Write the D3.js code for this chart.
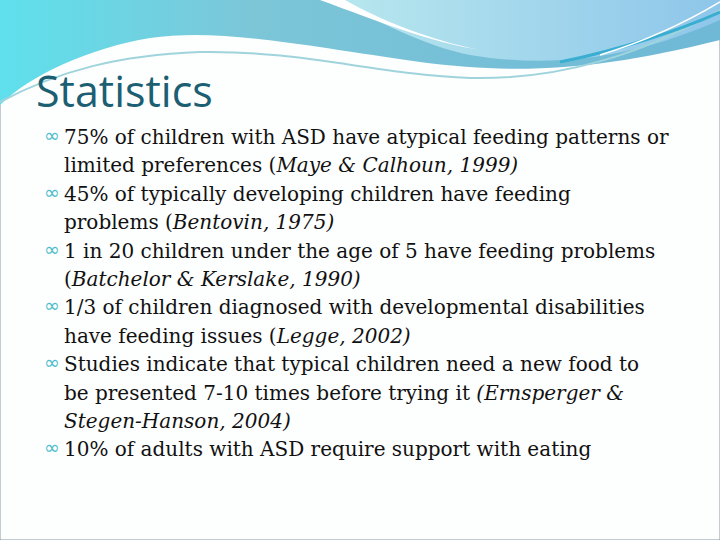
<!DOCTYPE html>
<html><head><meta charset="utf-8">
<script src="https://cdn.jsdelivr.net/npm/d3@7"></script>
<style>body{margin:0;background:#fff}</style>
</head><body>
<script>
var title = "Statistics";
// each bullet: list of lines, each line: list of [text, italic]
var bullets = [
  [[["75% of children with ASD have atypical feeding patterns or", 0]],
   [["limited preferences (", 0], ["Maye & Calhoun, 1999)", 1]]],
  [[["45% of typically developing children have feeding", 0]],
   [["problems (", 0], ["Bentovin, 1975)", 1]]],
  [[["1 in 20 children under the age of 5 have feeding problems", 0]],
   [["(", 0], ["Batchelor & Kerslake, 1990)", 1]]],
  [[["1/3 of children diagnosed with developmental disabilities", 0]],
   [["have feeding issues (", 0], ["Legge, 2002)", 1]]],
  [[["Studies indicate that typical children need a new food to", 0]],
   [["be presented 7-10 times before trying it ", 0], ["(Ernsperger &", 1]],
   [["Stegen-Hanson, 2004)", 1]]],
  [[["10% of adults with ASD require support with eating", 0]]]
];

var width = 720, height = 540;
var svg = d3.select("body").append("svg").attr("width", width).attr("height", height);

var defs = svg.append("defs");
var g1 = defs.append("linearGradient").attr("id", "g1");
g1.append("stop").attr("offset", "0").attr("stop-color", "#5fe0ec");
g1.append("stop").attr("offset", "0.35").attr("stop-color", "#7cc6d8");
g1.append("stop").attr("offset", "1").attr("stop-color", "#6fb8d6");
var g2 = defs.append("linearGradient").attr("id", "g2");
g2.append("stop").attr("offset", "0").attr("stop-color", "#b8e8ee");
g2.append("stop").attr("offset", "1").attr("stop-color", "#8ec6ea");

svg.append("rect").attr("width", width).attr("height", height).attr("fill", "#fdfefe")
  .attr("stroke", "#8a9aa5").attr("stroke-width", 1);

// header waves
svg.append("path").attr("fill", "url(#g1)")
  .attr("d", "M0,0 H720 V40 C600,70 520,75 420,62 C300,45 220,28 150,38 C90,48 30,75 0,105 Z");
svg.append("path").attr("fill", "url(#g2)")
  .attr("d", "M330,0 H720 V20 C640,55 560,70 470,55 C420,45 380,20 330,0 Z");
svg.append("path").attr("fill", "#fff")
  .attr("d", "M320,0 H345 C380,20 430,40 480,50 C430,42 380,22 320,0 Z");
svg.append("path").attr("fill", "none").attr("stroke", "#9fd4dc").attr("stroke-width", 2)
  .attr("d", "M0,102 C60,70 120,55 200,52 C300,50 380,75 470,78 C560,80 640,55 720,10");
svg.append("path").attr("fill", "none").attr("stroke", "#3aaed0").attr("stroke-width", 3)
  .attr("d", "M560,62 C620,50 680,30 720,12");
svg.append("path").attr("fill", "none").attr("stroke", "#ffffff").attr("stroke-width", 1.5)
  .attr("d", "M600,55 C650,40 690,20 720,2");

svg.append("text").attr("x", 36).attr("y", 107).attr("fill", "#1c5f72")
  .style("font-family", "'Open Sans', sans-serif").style("font-size", "43px").text(title);

var lineH = 28.4, y = 144;
bullets.forEach(function (b) {
  svg.append("text").attr("x", 44).attr("y", y - 2).attr("fill", "#4bbccc")
    .style("font-family", "DejaVu Sans").style("font-size", "19px").text("\u221e");
  b.forEach(function (line) {
    var t = svg.append("text").attr("x", 64).attr("y", y).attr("fill", "#111")
      .style("font-family", "'DejaVu Serif', serif").style("font-size", "20px");
    line.forEach(function (seg) {
      t.append("tspan").style("font-style", seg[1] ? "italic" : "normal").text(seg[0]);
    });
    y += lineH;
  });
});
</script>
</body></html>
